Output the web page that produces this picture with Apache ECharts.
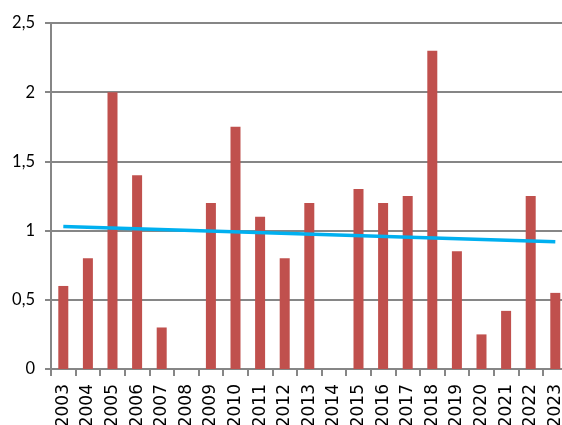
<!DOCTYPE html>
<html>
<head>
<meta charset="utf-8">
<script src="https://cdn.jsdelivr.net/npm/echarts@6/dist/echarts.min.js"></script>
<style>
  html, body { margin: 0; padding: 0; background: #fff; }
  #chart { width: 562px; height: 425px; }
</style>
</head>
<body>
<div id="chart"></div>
<script>
// Years on the category axis
const years = ['2003','2004','2005','2006','2007','2008','2009','2010','2011','2012',
               '2013','2014','2015','2016','2017','2018','2019','2020','2021','2022','2023'];
// Yearly values (bars)
const values = [0.6, 0.8, 2.0, 1.4, 0.3, 0, 1.2, 1.75, 1.1, 0.8,
                1.2, 0, 1.3, 1.2, 1.25, 2.3, 0.85, 0.25, 0.42, 1.25, 0.55];
// Linear trend: value at the first and at the last year
const trendStart = 1.03;
const trendEnd = 0.92;
// Value-axis ticks
const yTicks = [0, 0.5, 1, 1.5, 2, 2.5];

const trend = years.map((_, i) => i === 0 ? trendStart : (i === years.length - 1 ? trendEnd : null));

const gray = '#868686';
const chart = echarts.init(document.getElementById('chart'), null, { renderer: 'canvas' });
chart.setOption({
  animation: false,
  backgroundColor: '#fff',
  grid: {
    left: 51, top: 23, width: 516.6, bottom: 56,
    containLabel: false, outerBoundsMode: 'none'
  },
  xAxis: {
    type: 'category',
    data: years,
    boundaryGap: true,
    axisLine: { lineStyle: { color: gray, width: 2 } },
    axisTick: { show: true, interval: 0, length: 7, lineStyle: { color: gray, width: 2 } },
    axisLabel: {
      interval: 0, rotate: 90, margin: 15,
      fontFamily: 'DejaVu Sans', fontSize: 17, color: '#000'
    },
    splitLine: { show: false }
  },
  yAxis: {
    type: 'value',
    min: yTicks[0],
    max: yTicks[yTicks.length - 1],
    interval: yTicks[1] - yTicks[0],
    axisLine: { show: true, lineStyle: { color: gray, width: 2 } },
    axisTick: { show: true, length: 6, lineStyle: { color: gray, width: 2 } },
    axisLabel: {
      margin: 16, fontFamily: 'Lato', fontSize: 16.5, color: '#000',
      formatter: v => String(v).replace('.', ',')
    },
    splitLine: { show: true, lineStyle: { color: gray, width: 2 } }
  },
  series: [
    {
      type: 'bar',
      data: values,
      barWidth: 10,
      itemStyle: { color: '#c0504d' }
    },
    {
      type: 'line',
      data: trend,
      connectNulls: true,
      showSymbol: false,
      symbol: 'none',
      lineStyle: { color: '#00b0f0', width: 3.5 },
      z: 5
    }
  ]
});
</script>
</body>
</html>
